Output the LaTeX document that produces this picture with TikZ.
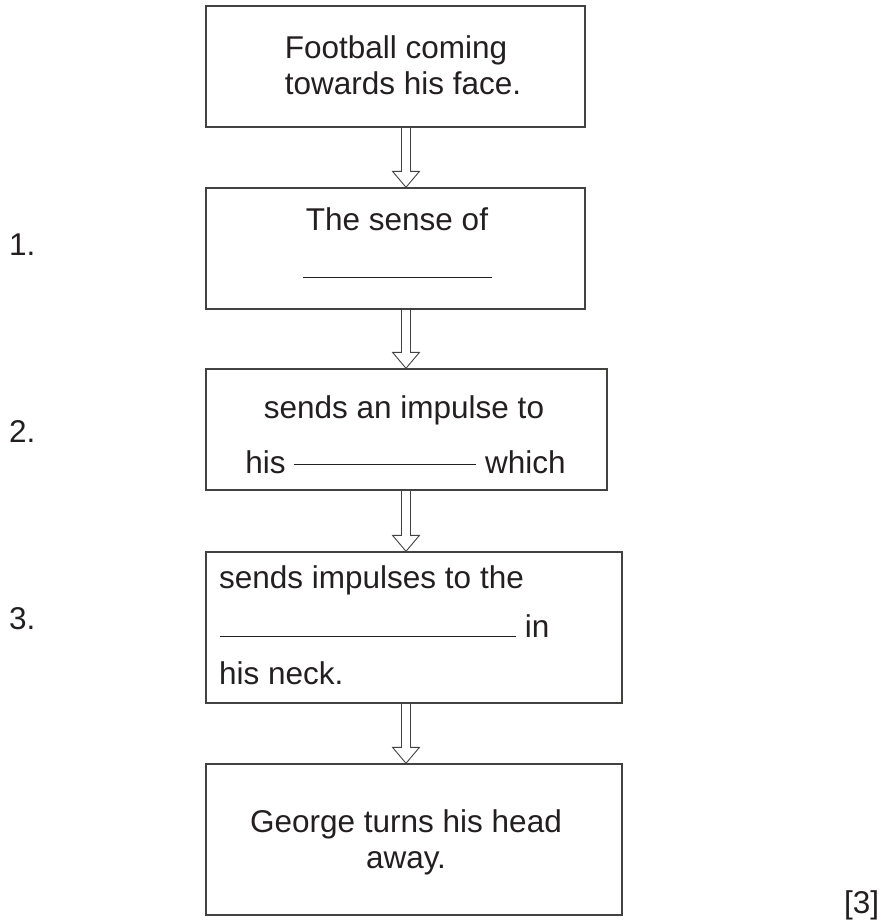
\documentclass[tikz,border=0pt]{standalone}
\usepackage{fontspec}
\setmainfont{Liberation Sans}
\usepackage{tikz}
\usetikzlibrary{positioning,calc}
\definecolor{ink}{HTML}{231F20}
\newcommand{\hollowarrow}[2]{%
  \draw[arrowline] ($(#1.south -| ax)+(-4.5,0)$) -- ($(#2.north -| ax)+(-4.5,-16)$) -- ++(-9,0) -- (#2.north -| ax) -- ++(13.5,-16) -- ++(-9,0) -- ($(#1.south -| ax)+(4.5,0)$);}

\begin{document}
\begin{tikzpicture}[x=1pt,y=-1pt,
  boxnode/.style={rectangle,draw=ink!85,line width=1.4pt,inner sep=0pt},
  txt/.style={inner sep=0pt,anchor=base,text=ink,font=\fontsize{31.5}{38}\selectfont},
  txtl/.style={txt,anchor=base west},
  arrowline/.style={draw=ink!85,line width=0.9pt,line join=miter}]
		\useasboundingbox (0,0) rectangle (882,922);
		\coordinate (ax) at (406,0);
		\node [boxnode,minimum width=379,minimum height=121] (b1) at (395.5,66.5) {};
		\node [boxnode,minimum width=379,minimum height=121] (b2) at (395.5,248.5) {};
		\node [boxnode,minimum width=401,minimum height=121] (b3) at (406.5,429.5) {};
		\node [boxnode,minimum width=416,minimum height=151] (b4) at (414,627.5) {};
		\node [boxnode,minimum width=416,minimum height=151] (b5) at (414,839.5) {};
		\node [txt] (t1a) at (396,58) {Football coming};
		\node [txt] (t1b) at (403,94) {towards his face.};
		\node [txt] (t2a) at (397,230) {The sense of};
		\node [txt] (t2b) at (397.5,278) {\rule{189pt}{1pt}};
		\node [txt] (t3a) at (404,418) {sends an impulse to};
		\node [txt] (t3b) at (405.5,473) {his \raisebox{8pt}{\rule{182pt}{1pt}} which};
		\node [txtl] (t4a) at (219,588) {sends impulses to the};
		\node [txtl] (t4b) at (220,637) {\rule{296pt}{1pt} in};
		\node [txtl] (t4c) at (219,684) {his neck.};
		\node [txt] (t5a) at (406,832) {George turns his head};
		\node [txt] (t5b) at (406,868) {away.};
		\node [txtl] (n1) at (9,255) {1.};
		\node [txtl] (n2) at (9,442) {2.};
		\node [txtl] (n3) at (9,629) {3.};
		\node [txtl] (mk) at (844,913) {[3]};
		\hollowarrow{b1}{b2}
		\hollowarrow{b2}{b3}
		\hollowarrow{b3}{b4}
		\hollowarrow{b4}{b5}
	\end{tikzpicture}
\end{document}
